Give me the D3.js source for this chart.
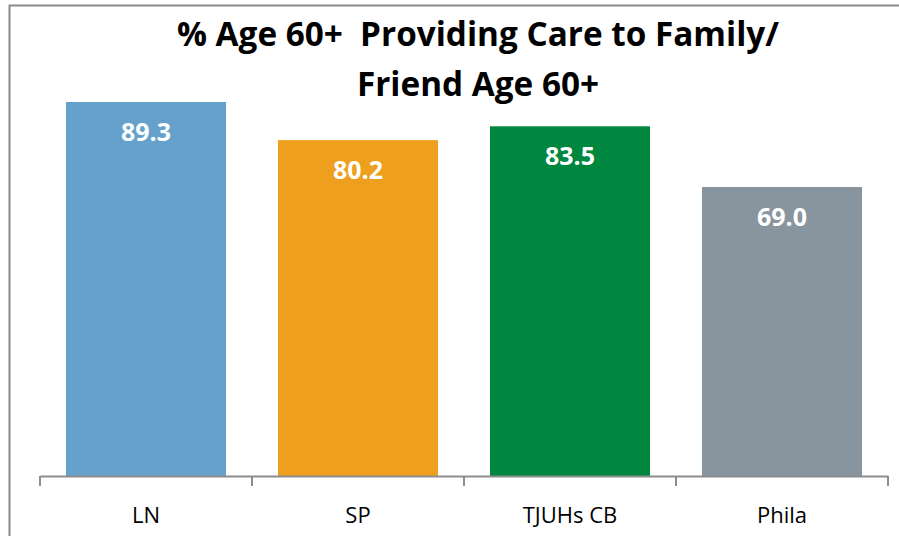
<!DOCTYPE html>
<html>
<head>
<meta charset="utf-8">
<script src="https://cdn.jsdelivr.net/npm/d3@7"></script>
<style>
  html, body { margin: 0; padding: 0; background: #fff; }
  svg { display: block; }
  .title { white-space: pre; }
</style>
</head>
<body>
<script>
const categories = ["LN", "SP", "TJUHs CB", "Phila"];
const values = [89.3, 80.2, 83.5, 69.0];
const colors = ["#65A1CA", "#EE9F1E", "#00873F", "#89959E"];
const titleLines = ["% Age 60+  Providing Care to Family/", "Friend Age 60+"];

const W = 899, H = 536;
const svg = d3.select("body").append("svg").attr("width", W).attr("height", H);
const font = "'Open Sans', Lato, sans-serif";

// outer border
svg.append("rect").attr("x", 9.5).attr("y", 5.5).attr("width", W + 10).attr("height", H + 10)
  .attr("fill", "none").attr("stroke", "#8a8a8a").attr("stroke-width", 2);

const x = d3.scaleBand().domain(categories).range([40, 888]).padding(0);
const y = d3.scaleLinear().domain([0, 100]).range([476, 57.2]);
const barW = x.bandwidth() * 0.755;

// bars
svg.selectAll("rect.bar").data(values).enter().append("rect")
  .attr("class", "bar")
  .attr("x", (d, i) => x(categories[i]) + (x.bandwidth() - barW) / 2)
  .attr("y", d => y(d))
  .attr("width", barW)
  .attr("height", d => y(0) - y(d))
  .attr("fill", (d, i) => colors[i]);

// value labels
svg.selectAll("text.val").data(values).enter().append("text")
  .attr("class", "val")
  .attr("x", (d, i) => x(categories[i]) + x.bandwidth() / 2)
  .attr("y", d => y(d) + 39)
  .attr("text-anchor", "middle")
  .attr("font-family", font).attr("font-weight", "bold").attr("font-size", 25)
  .attr("fill", "#fff")
  .text(d => d.toFixed(1));

// axis
const axis = d3.axisBottom(x).tickSize(0).tickSizeOuter(0);
const g = svg.append("g").attr("transform", "translate(0,476)").call(axis);
g.select(".domain").attr("stroke", "#8c8c8c").attr("stroke-width", 2);
g.selectAll(".tick text").attr("font-family", font).attr("font-size", 22)
  .attr("fill", "#000").attr("dy", 0).attr("y", 47);
// category boundary ticks
const bounds = categories.map(c => x(c)).concat([x.range()[1]]);
g.selectAll("line.sep").data(bounds).enter().append("line")
  .attr("class", "sep")
  .attr("x1", d => d).attr("x2", d => d).attr("y1", 0).attr("y2", 10)
  .attr("stroke", "#8c8c8c").attr("stroke-width", 2);

// title
const titleY = [46, 96];
titleLines.forEach((t, i) => {
  svg.append("text")
    .attr("class", "title")
    .attr("x", 478).attr("y", titleY[i])
    .attr("text-anchor", "middle")
    .attr("font-family", font).attr("font-weight", "bold").attr("font-size", 33.3)
    .attr("fill", "#000")
    .text(t);
});
</script>
</body>
</html>
